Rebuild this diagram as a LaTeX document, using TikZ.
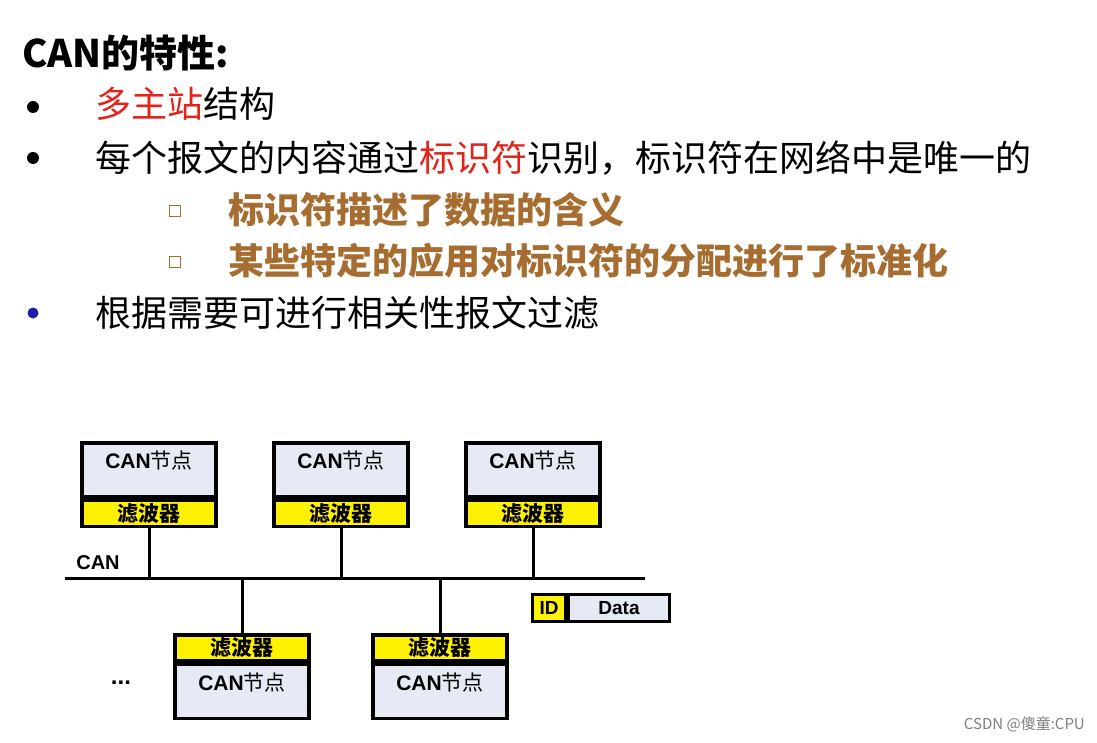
\documentclass[tikz,border=0pt]{standalone}
\usepackage{fontspec}
\setmainfont{Noto Sans CJK SC}
\newfontfamily\arialfont{Liberation Sans}
\usetikzlibrary{positioning}
\definecolor{idred}{HTML}{E2231A}
\definecolor{subbrown}{HTML}{A66C30}
\definecolor{nodefill}{HTML}{E6EAF4}
\definecolor{filteryellow}{HTML}{FFF200}
\definecolor{dotblue}{HTML}{1C1CA8}
\newcommand\cannode{{\arialfont\bfseries CAN}节点}
\tikzset{
  txt/.style={anchor=west,inner sep=0pt,font=\fontsize{36}{40}\selectfont},
  subtxt/.style={anchor=west,inner sep=0pt,text=subbrown,font=\bfseries\fontsize{36}{40}\selectfont},
  dot/.style={circle,fill,inner sep=0pt,minimum size=12pt},
  subsq/.style={draw=subbrown,line width=1.8pt,fill=white,inner sep=0pt,minimum size=11pt},
  body/.style={draw,line width=3.5pt,fill=nodefill,minimum width=134pt,minimum height=54pt,
    inner sep=0pt,text depth=20pt,font=\fontsize{21}{24}\selectfont},
  filter/.style={draw,line width=3.5pt,fill=filteryellow,minimum width=134pt,minimum height=26pt,
    inner sep=0pt,font=\bfseries\fontsize{21}{24}\selectfont},
  wire/.style={line width=3pt},
}
\begin{document}
\begin{tikzpicture}[x=1pt,y=-1pt]
  \useasboundingbox[fill=white] (0,0) rectangle (1097,743);
  % text part
  \node[anchor=west,inner sep=0pt,font=\bfseries\fontsize{38}{42}\selectfont] (title) at (22,53) {CAN的特性:};
  \node[dot] (b1) at (33,107) {};
  \node[txt] (t1) at (95,104) {{\color{idred}多主站}结构};
  \node[dot] (b2) at (33,158) {};
  \node[txt] (t2) at (95,158) {每个报文的内容通过{\color{idred}标识符}识别，标识符在网络中是唯一的};
  \node[subsq] (s1) at (175,211) {};
  \node[subtxt] (t3) at (228,210) {标识符描述了数据的含义};
  \node[subsq] (s2) at (175,262) {};
  \node[subtxt] (t4) at (228,261) {某些特定的应用对标识符的分配进行了标准化};
  \node[dot,fill=dotblue,minimum size=11pt] (b3) at (33,313) {};
  \node[txt] (t5) at (95,313) {根据需要可进行相关性报文过滤};
  % bus
  \coordinate (busL) at (65,578);
  \coordinate (busR) at (645,578);
  \draw[wire] (busL) -- (busR);
  \node[inner sep=0pt,font=\arialfont\bfseries\fontsize{20}{24}\selectfont] (canlbl) at (98,563) {CAN};
  % upper nodes
  \foreach \n/\x in {1/149,2/341,3/533}{
    \node[body] (N\n) at (\x,470) {\cannode};
    \node[filter,below=0pt of N\n] (F\n) {滤波器};
    \draw[wire] (F\n.south) -- (F\n.south |- busL);
  }
  % lower nodes
  \foreach \n/\x in {4/242,5/440}{
    \node[filter] (F\n) at (\x,648) {滤波器};
    \node[body,below=0pt of F\n] (N\n) {\cannode};
    \draw[wire] (F\n.north) -- (F\n.north |- busL);
  }
  \node[inner sep=0pt,font=\arialfont\bfseries\fontsize{24}{26}\selectfont] (dots) at (121,683) {...};
  % frame
  \node[draw,line width=3pt,fill=filteryellow,minimum width=33pt,minimum height=27pt,inner sep=0pt,
    font=\arialfont\bfseries\fontsize{19}{22}\selectfont] (ID) at (549,608) {ID};
  \node[draw,line width=3pt,fill=nodefill,minimum width=101pt,minimum height=27pt,inner sep=0pt,
    font=\arialfont\bfseries\fontsize{19}{22}\selectfont,right=0pt of ID] (data) {Data};
  \node[anchor=east,inner sep=0pt,text=gray,font=\fontsize{15}{18}\selectfont] (wm) at (1085,724) {CSDN @傻童:CPU};
\end{tikzpicture}
\end{document}
